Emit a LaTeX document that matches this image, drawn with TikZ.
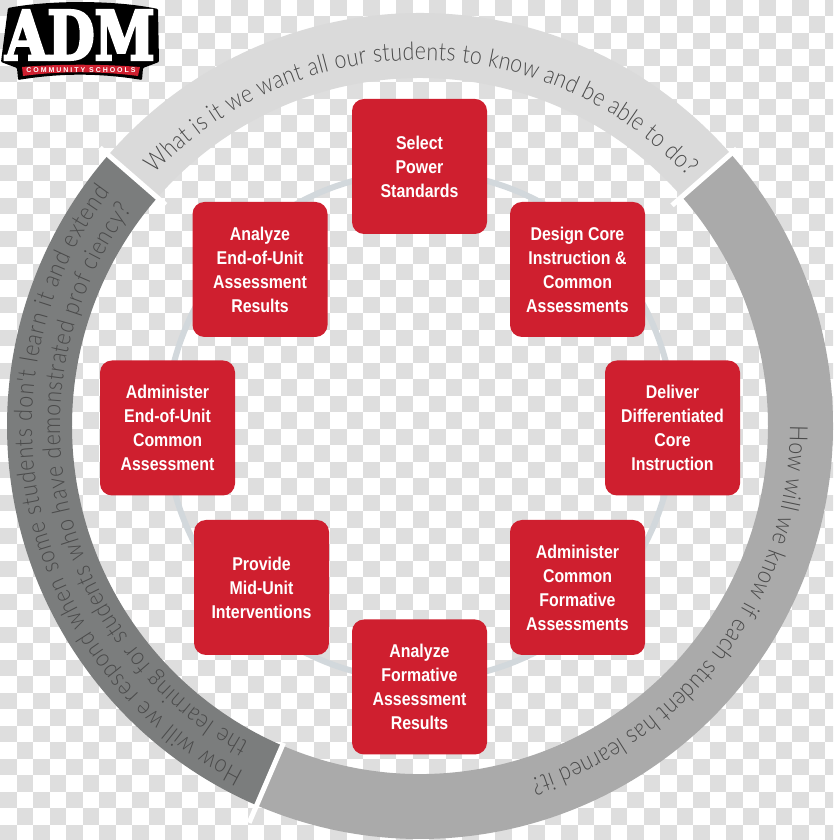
\documentclass[tikz,border=0pt]{standalone}
\usepackage{fontspec}
\usetikzlibrary{decorations.text,calc}
\setmainfont{Liberation Sans}
\newfontfamily\boxfont[FakeStretch=0.86]{Liberation Sans}
\newfontfamily\ringfont[FakeStretch=0.85]{Lato Light}
\newfontfamily\logofont[FakeStretch=0.8]{DejaVu Serif}
\definecolor{chk}{HTML}{DEDEDE}
\definecolor{boxred}{HTML}{CF1F2F}
\definecolor{ringlight}{HTML}{DADADA}
\definecolor{ringmid}{HTML}{AAAAAA}
\definecolor{ringdark}{HTML}{7B7D7D}
\definecolor{thinring}{HTML}{D2D8DC}
\definecolor{ringtext}{HTML}{4A4A4A}
\tikzset{
  stepbox/.style={fill=boxred,rounded corners=12pt,minimum width=135pt,minimum height=135pt,
    align=center,text=white,inner sep=0pt,font=\boxfont\bfseries\fontsize{18.5}{24}\selectfont},
  sep/.style={draw=white,line width=5pt},
  ringtextstyle/.style={decorate,decoration={text along path,text align={fit to path},
    text={|\ringfont\fontsize{25}{25}\selectfont\color{ringtext}|#1}}},
}
\begin{document}
\begin{tikzpicture}[x=1pt,y=1pt]
\useasboundingbox (0,0) rectangle (833,840);
% checkerboard
\begin{scope}
\clip (0,0) rectangle (833,840);
\fill[white] (0,0) rectangle (833,840);
\foreach \r in {0,...,50}{\foreach \c in {0,...,50}{
  \pgfmathparse{int(mod(\r+\c,2))}
  \ifnum\pgfmathresult=0
    \fill[chk] ({\c*16.5},{840-\r*16.5}) rectangle ++(16.5,-16.5);
  \fi
}}
\end{scope}
\begin{scope}[shift={(420,414)}]
% thin ring
\draw[thinring,line width=6pt] (0,0) circle[radius=254];
% rings
\fill[ringlight] (139:413) arc[start angle=139,end angle=41,radius=413] -- (41:348) arc[start angle=41,end angle=139,radius=348] -- cycle;
\fill[ringmid] (41:413) arc[start angle=41,end angle=-113.3,radius=413] -- (-113.3:348) arc[start angle=-113.3,end angle=41,radius=348] -- cycle;
\fill[ringdark] (246.7:413) arc[start angle=246.7,end angle=139,radius=413] -- (139:348) arc[start angle=139,end angle=246.7,radius=348] -- cycle;
\draw[sep] (139:337) -- (139:424);
\draw[sep] (41.2:335) -- (41.2:421);
\draw[sep] (246.7:345) -- (246.7:432);
% ring texts
\path[ringtextstyle={What is it we want all our students to know and be able to do?}]
  (136.5:366) arc[start angle=136.5,end angle=43,radius=366];
\path[ringtextstyle={How will we know if each student has learned it?}]
  (0:370) arc[start angle=0,end angle=-72.6,radius=370];
\path[ringtextstyle={How will we respond when some students don't learn it and extend}]
  (243:388) arc[start angle=243,end angle=143,radius=388];
\path[ringtextstyle={the learning for students who have demonstrated prof ciency?}]
  (241.6:360) arc[start angle=241.6,end angle=143.1,radius=360];
\end{scope}
% boxes
\node[stepbox] (select) at (419.5,673.5) {Select\\Power\\Standards};
\node[stepbox] (design) at (577.5,570.5) {Design Core\\Instruction \&\\Common\\Assessments};
\node[stepbox] (deliver) at (672.5,412) {Deliver\\Differentiated\\Core\\Instruction};
\node[stepbox] (admincommon) at (577.5,252.5) {Administer\\Common\\Formative\\Assessments};
\node[stepbox] (analyzeform) at (419.5,153) {Analyze\\Formative\\Assessment\\Results};
\node[stepbox] (provide) at (261.5,252.5) {Provide\\Mid-Unit\\Interventions};
\node[stepbox] (adminend) at (167.5,412) {Administer\\End-of-Unit\\Common\\Assessment};
\node[stepbox] (analyzeend) at (260,570.5) {Analyze\\End-of-Unit\\Assessment\\Results};
% logo
\fill[black,rounded corners=1pt] (8,832) .. controls (50,840) and (115,840) .. (158,831) -- (159,778) -- (143,772) -- (142,760) .. controls (100,767) and (60,767) .. (18,760) -- (17,772) -- (1,778) -- cycle;
\fill[boxred] (22,773) .. controls (60,776) and (100,776) .. (140,773) -- (138,764) .. controls (100,769) and (60,769) .. (23,764) -- cycle;
\node[inner sep=0pt,text=white] (logotext) at (80,805) {\logofont\bfseries\fontsize{68}{68}\selectfont\special{pdf:code q 2 Tr 2.5 w 1 1 1 RG}ADM\special{pdf:code Q}};
\node[inner sep=0pt,text=white,font=\bfseries\fontsize{7}{7}\selectfont\addfontfeature{LetterSpace=28}] (logosub) at (81,770) {COMMUNITY SCHOOLS};
\end{tikzpicture}
\end{document}
